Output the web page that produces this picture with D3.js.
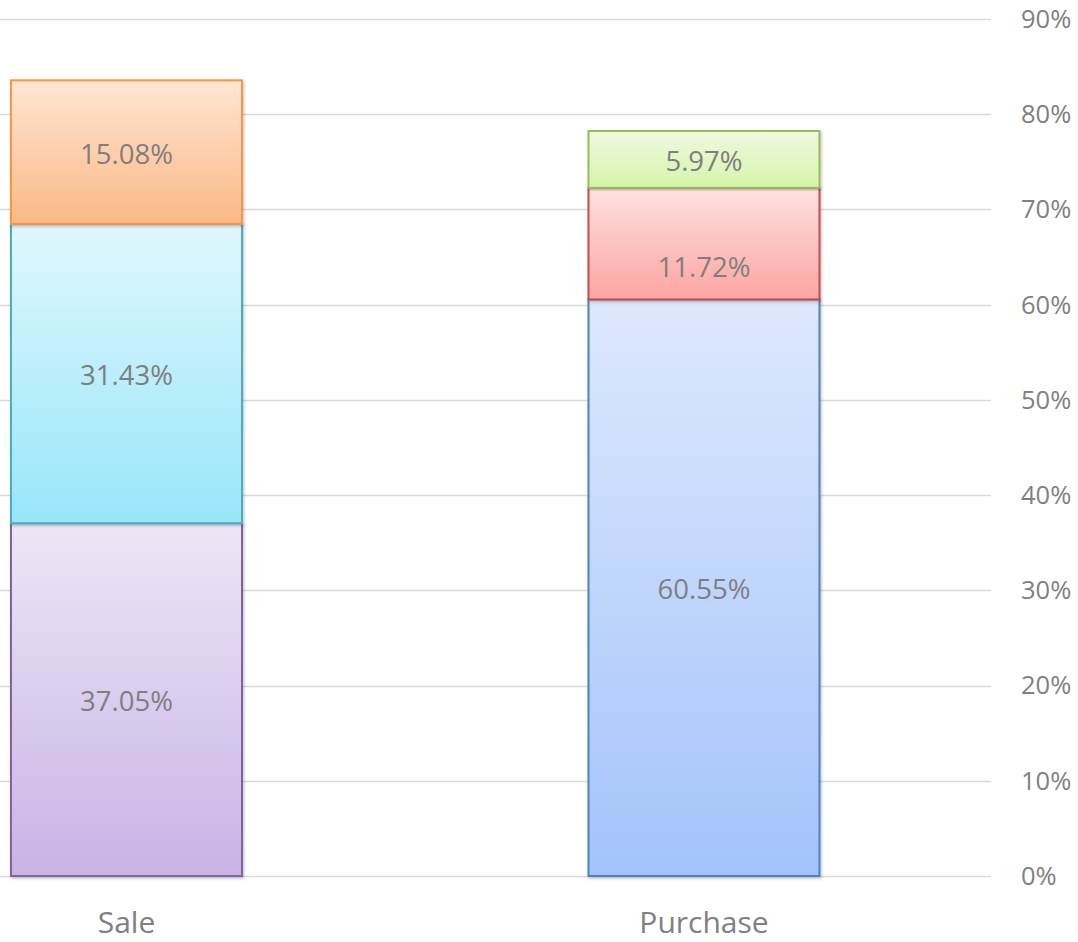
<!DOCTYPE html>
<html><head><meta charset="utf-8">
<script src="https://cdn.jsdelivr.net/npm/d3@7"></script>
<style>html,body{margin:0;padding:0;background:#fff;}svg{display:block;}</style>
</head><body>
<svg id="chart" width="1078" height="942"></svg>
<script>
const categories = ["Sale", "Purchase"];
const saleValues = [37.05, 31.43, 15.08];
const purchaseValues = [60.55, 11.72, 5.97];
const tickValues = [0, 10, 20, 30, 40, 50, 60, 70, 80, 90];
const tickLabels = ["0%", "10%", "20%", "30%", "40%", "50%", "60%", "70%", "80%", "90%"];

const seriesByCategory = { "Sale": saleValues, "Purchase": purchaseValues };
const palettes = {
  "Sale": [
    { top: "#ede6f6", bottom: "#c8b3e6", stroke: "#8064a2" },
    { top: "#e0f7fd", bottom: "#98e6f9", stroke: "#4bacc6" },
    { top: "#fee6d3", bottom: "#fbb885", stroke: "#f79646" }
  ],
  "Purchase": [
    { top: "#dee8fd", bottom: "#a3c3fb", stroke: "#4f81bd" },
    { top: "#ffe1e1", bottom: "#fca5a2", stroke: "#c0504d" },
    { top: "#eff9e1", bottom: "#d6f5a9", stroke: "#9bbb59" }
  ]
};
// Excel places the red label lower than center
const labelShift = { "Purchase-1": 22 };

const svg = d3.select("#chart");
const x = d3.scaleBand().domain(categories).range([-162.25, 992.75]).paddingInner(0.6).paddingOuter(0.3);
const y = d3.scaleLinear().domain([0, 90]).range([876, 19]);

const defs = svg.append("defs");
const shadow = defs.append("filter").attr("id", "shadow").attr("x", "-5%").attr("y", "-5%").attr("width", "110%").attr("height", "110%");
shadow.append("feDropShadow").attr("dx", 1).attr("dy", 1.5).attr("stdDeviation", 1.5).attr("flood-color", "#000").attr("flood-opacity", 0.25);

// gridlines
svg.append("g").selectAll("line").data(tickValues).join("line")
  .attr("x1", 0).attr("x2", 991)
  .attr("y1", d => Math.round(y(d)) + 0.5).attr("y2", d => Math.round(y(d)) + 0.5)
  .attr("stroke", "#d9d9d9").attr("stroke-width", 1.5);

// right axis labels
svg.append("g").selectAll("text").data(tickValues).join("text")
  .attr("x", 1021).attr("y", d => y(d))
  .attr("dy", "0.35em")
  .attr("font-family", "'Open Sans', sans-serif").attr("font-size", 25.5)
  .attr("fill", "#808080")
  .text((d, i) => tickLabels[i]);

// bars
categories.forEach(cat => {
  const vals = seriesByCategory[cat];
  let cum = 0;
  const segs = vals.map((v, i) => { const s = { cat, i, v, y0: cum, y1: cum + v }; cum += v; return s; });
  segs.forEach(s => {
    const p = palettes[cat][s.i];
    const gid = `g-${cat}-${s.i}`;
    const lg = defs.append("linearGradient").attr("id", gid).attr("x1", 0).attr("y1", 0).attr("x2", 0).attr("y2", 1);
    lg.append("stop").attr("offset", "0%").attr("stop-color", p.top);
    lg.append("stop").attr("offset", "100%").attr("stop-color", p.bottom);
  });
  const g = svg.append("g");
  g.selectAll("rect").data(segs).join("rect")
    .attr("x", x(cat)).attr("width", x.bandwidth())
    .attr("y", d => y(d.y1)).attr("height", d => y(d.y0) - y(d.y1))
    .attr("fill", d => `url(#g-${cat}-${d.i})`)
    .attr("stroke", d => palettes[cat][d.i].stroke).attr("stroke-width", 2)
    .attr("filter", "url(#shadow)");
  g.selectAll("text").data(segs).join("text")
    .attr("x", x(cat) + x.bandwidth() / 2)
    .attr("y", d => (y(d.y0) + y(d.y1)) / 2 + 2 + (labelShift[`${cat}-${d.i}`] || 0))
    .attr("dy", "0.35em").attr("text-anchor", "middle")
    .attr("font-family", "'Open Sans', sans-serif").attr("font-size", 27.5)
    .attr("fill", "#7f7f7f")
    .text(d => d.v.toFixed(2) + "%");
});

// category labels
svg.append("g").selectAll("text").data(categories).join("text")
  .attr("x", d => x(d) + x.bandwidth() / 2).attr("y", 933)
  .attr("text-anchor", "middle")
  .attr("font-family", "'Open Sans', sans-serif").attr("font-size", 30)
  .attr("fill", "#808080")
  .text(d => d);
</script>
</body></html>
